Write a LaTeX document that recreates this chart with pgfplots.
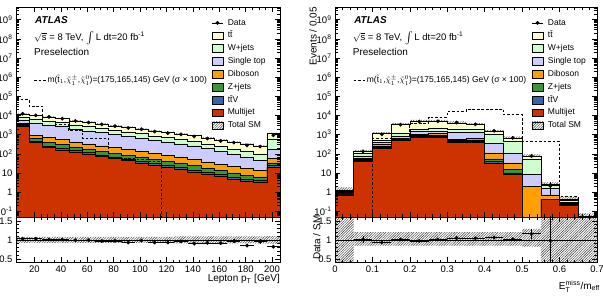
\documentclass[border=0pt]{standalone}
\usepackage{fontspec}
\setmainfont{Liberation Sans}
\usepackage{amsmath}
\usepackage{pgfplots}
\pgfplotsset{compat=1.18}
\usepackage{pgfplotstable}
\usepgfplotslibrary{fillbetween}
\usetikzlibrary{patterns.meta}

% process colours
\definecolor{cTT}{RGB}{255,255,204}
\definecolor{cW}{RGB}{204,255,204}
\definecolor{cST}{RGB}{204,204,255}
\definecolor{cDB}{RGB}{255,160,0}
\definecolor{cZ}{RGB}{51,153,51}
\definecolor{cTTV}{RGB}{51,102,170}
\definecolor{cMJ}{RGB}{204,51,0}

\newcommand{\dashsample}{\raisebox{0.55ex}{\rule{2.6pt}{0.7pt}\hspace{1.9pt}\rule{2.6pt}{0.7pt}\hspace{1.9pt}\rule{2.6pt}{0.7pt}}}
\newcommand{\sigtext}{\dashsample\hspace{1.7pt}m($\tilde{\text{t}}_{1}$,$\tilde{\chi}^{\pm}_{1}$,$\tilde{\chi}^{0}_{1}$)=(175,165,145) GeV (σ × 100)}
\newcommand{\lumitext}{$\sqrt{\text{s}}$ = 8 TeV, {\fontsize{12}{12}\selectfont$\int$}\,L dt=20 fb\textsuperscript{-1}}

\tikzset{hatch/.style={pattern={Lines[angle=45,distance=1.8pt,line width=0.45pt]},pattern color=black!80}}

\pgfplotsset{
  hepframe/.style={
    scale only axis, axis on top, clip mode=individual,
    tick align=inside, xtick pos=both, ytick pos=both,
    major tick length=5pt, minor tick length=2.6pt,
    every tick/.append style={black, line width=0.45pt},
    axis line style={line width=0.6pt},
    tick label style={font=\fontsize{9.5}{11}\selectfont},
    /pgf/number format/assume math mode=true,
  },
  hepmainy/.style={
    ymin=0.05, ymax=4.6e9, log origin y=infty,
    ytick={0.1,1,10,100,1000,1e4,1e5,1e6,1e7,1e8,1e9},
    yticklabels={10\textsuperscript{-1},1,10,10\textsuperscript{2},10\textsuperscript{3},10\textsuperscript{4},10\textsuperscript{5},10\textsuperscript{6},10\textsuperscript{7},10\textsuperscript{8},10\textsuperscript{9}},
    minor ytick={0.06,0.07,0.08,0.09,0.2,0.3,0.4,0.5,0.6,0.7,0.8,0.9,2,3,4,5,6,7,8,9,20,30,40,50,60,70,80,90,200,300,400,500,600,700,800,900,2000,3000,4000,5000,6000,7000,8000,9000,2e4,3e4,4e4,5e4,6e4,7e4,8e4,9e4,2e5,3e5,4e5,5e5,6e5,7e5,8e5,9e5,2e6,3e6,4e6,5e6,6e6,7e6,8e6,9e6,2e7,3e7,4e7,5e7,6e7,7e7,8e7,9e7,2e8,3e8,4e8,5e8,6e8,7e8,8e8,9e8,2e9,3e9,4e9},
  },
  ratioy/.style={
    ymin=0.41, ymax=1.6, ytick={0.5,1,1.5}, yticklabels={0.5,1,1.5}, minor y tick num=4,
  },
  hist/.style={forget plot, const plot mark left, draw=black, line width=0.45pt},
  boxentry/.style={legend image code/.code={\draw[##1,line width=0.45pt] (0pt,-3.9pt) rectangle (11pt,3.9pt);}},
  dataentry/.style={legend image code/.code={\draw[black,line width=0.6pt] (0pt,0pt) -- (11pt,0pt); \fill[black] (5.5pt,0pt) circle (1.7pt);}},
  heplegend/.style={
    legend cell align=left,
    legend style={draw=none, fill=none, anchor=north west, inner sep=0pt, outer sep=0pt,
      font=\fontsize{8.5}{10}\selectfont, row sep=4.6pt,
      nodes={inner sep=0pt, outer sep=0pt, text height=6.3pt, text depth=1.9pt},
      /tikz/every odd column/.append style={column sep=4.6pt}},
  },
  datapts/.style={forget plot, only marks, mark=*, mark size=1.7pt, black,
    error bars/y dir=both, error bars/y explicit, error bars/error mark=none,
    error bars/error bar style={line width=0.6pt}},
}

% lepton pT: cumulative stack heights (Multijet, +ttV, +Z, +Diboson, +Single top, +W, +ttbar), signal, band
\pgfplotstableread{
lo  c1   c2   c3   c4   c5   c6   c7    sig    mbu  mbd  bu   bd
6   2630 2951 3311 3802 5623 8511 12020 66070  0.08 0.08 0.08 0.08
16  417  479  631  891  3802 6310 9772  30200  0.08 0.08 0.08 0.08
26  214  251  398  708  3162 5248 8318  5012   0.08 0.08 0.08 0.08
36  162  191  302  550  2630 4365 6761  3548   0.08 0.08 0.08 0.08
46  126  148  229  417  1905 3162 5248  1585   0.08 0.08 0.08 0.08
56  98   115  178  331  1585 2630 4365  661    0.08 0.08 0.08 0.08
66  76   89   138  263  1288 2138 3548  661    0.08 0.08 0.08 0.08
76  58   69   107  209  1000 1698 2884  62     0.08 0.08 0.08 0.08
86  45   54   85   166  813  1413 2399  58     0.08 0.08 0.08 0.08
96  33   41   68   132  646  1122 1950  52     0.08 0.08 0.08 0.08
106 26   32   52   105  501  871  1549  42     0.08 0.08 0.08 0.08
116 20   25   41   83   407  724  1288  1e-4   0.08 0.08 0.08 0.08
126 15   19   31   63   331  589  1072  1e-4   0.09 0.09 0.09 0.09
136 11.5 14   24   50   263  468  891   1e-4   0.09 0.09 0.09 0.09
146 8.7  10.7 17.8 38   186  331  676   1e-4   0.09 0.09 0.09 0.09
156 6.5  8.1  13.2 28   132  234  513   1e-4   0.09 0.09 0.09 0.09
166 4.9  6.2  10   22   93   178  398   1e-4   0.09 0.09 0.09 0.09
176 3.8  4.8  7.6  17.8 68   132  324   1e-4   0.09 0.09 0.09 0.09
186 3.3  4.2  6.3  14.1 45   100  251   1e-4   0.09 0.09 0.09 0.09
196 20   24   33   60   166  562  1122  1e-4   0.10 0.10 0.10 0.10
206 20   24   33   60   166  562  1122  1e-4   0.10 0.10 0.10 0.10
}\lstack

\pgfplotstableread{
x   y     ey   r    er
11  12380 111  1.03 0.010
21  10065 100  1.03 0.011
31  8401  92   1.01 0.011
41  6829  83   1.01 0.012
51  5196  72   0.99 0.014
61  4321  66   0.99 0.015
71  3442  59   0.97 0.017
81  2797  53   0.97 0.018
91  2231  47   0.93 0.020
101 1911  44   0.98 0.022
111 1441  38   0.93 0.025
121 1198  35   0.93 0.027
131 1029  32   0.96 0.030
141 802   28   0.90 0.032
151 622   25   0.92 0.037
161 467   22   0.91 0.042
171 386   20   0.97 0.049
181 275   17   0.85 0.051
191 238   15   0.95 0.062
201 920   30   0.82 0.027
}\ldata

% ETmiss/meff: same column layout
\pgfplotstableread{
lo   c1    c2    c3    c4    c5    c6    c7    sig    mbu  mbd  bu   bd
0    0.72  0.76  0.80  0.86  0.95  1.08  1.25  1e-4   0.42 0.36 0.8  0.8
0.05 40    46    52    60    79    105   132   1e-4   0.20 0.15 0.20 0.15
0.10 200   220   250   300   390   537   1120  600    0.20 0.15 0.20 0.15
0.15 537   560   600   661   870   1200  3300  660    0.20 0.15 0.20 0.15
0.20 741   800   900   1070  1480  1950  4900  3981   0.20 0.15 0.20 0.15
0.25 741   800   900   1120  1585  2190  4900  8300   0.20 0.15 0.20 0.15
0.30 420   450   480   550   1400  1900  4070  16200  0.20 0.15 0.20 0.15
0.35 398   447   525   661   1318  1820  3311  21380  0.20 0.15 0.20 0.15
0.40 33    40    54    110   363   1000  1490  21380  0.20 0.15 0.20 0.15
0.45 8.5   9.3   14.8  33    110   447   661   10960  0.20 0.15 0.20 0.15
0.50 1e-4  1e-4  1e-4  2.0   8.1   50    72    447    0.29 0.18 0.29 0.18
0.55 0.40  0.40  0.40  0.72  1.6   2.2   2.5   447    0.27 0.23 0.8  0.8
0.60 0.20  0.21  0.23  0.26  0.30  0.36  0.44  0.6    0.30 0.30 0.8  0.8
0.65 0.045 0.045 0.045 0.045 0.045 0.045 0.055 1e-4   0.40 0.40 0.8  0.8
0.70 0.045 0.045 0.045 0.045 0.045 0.045 0.055 1e-4   0.40 0.40 0.8  0.8
}\rstack

\pgfplotstableread{
x     y     ey   r    er
0.075 133   12   1.01 0.08
0.125 1040  32   0.93 0.03
0.175 3330  58   1.01 0.02
0.225 4750  69   0.97 0.015
0.275 4950  70   1.01 0.015
0.325 4270  65   1.05 0.016
0.375 3440  59   1.04 0.018
0.425 1580  40   1.06 0.025
0.475 674   26   1.02 0.04
0.525 75    9    1.16 0.13
0.575 2.1   1.4  0.98 0.7
}\rdata

\begin{document}
\begin{tikzpicture}

% ---------------- left: lepton pT ----------------
\begin{axis}[hepframe, ymode=log, hepmainy, heplegend,
  at={(16pt,78pt)}, anchor=south west, width=264pt, height=210pt,
  xmin=6, xmax=206, xtick={20,40,...,200}, minor x tick num=3, xticklabels={},
  legend style={at={(0.741,0.944)}},
]
\addlegendimage{dataentry}\addlegendentry{Data}
\addlegendimage{boxentry,fill=cTT}\addlegendentry{t\=t}
\addlegendimage{boxentry,fill=cW}\addlegendentry{W+jets}
\addlegendimage{boxentry,fill=cST}\addlegendentry{Single top}
\addlegendimage{boxentry,fill=cDB}\addlegendentry{Diboson}
\addlegendimage{boxentry,fill=cZ}\addlegendentry{Z+jets}
\addlegendimage{boxentry,fill=cTTV}\addlegendentry{t\=tV}
\addlegendimage{boxentry,fill=cMJ}\addlegendentry{Multijet}
\addlegendimage{boxentry,hatch}\addlegendentry{Total SM}

\addplot[hist, fill=cTT]  table[x=lo,y=c7]{\lstack} \closedcycle;
\addplot[hist, fill=cW]   table[x=lo,y=c6]{\lstack} \closedcycle;
\addplot[hist, fill=cST]  table[x=lo,y=c5]{\lstack} \closedcycle;
\addplot[hist, fill=cDB]  table[x=lo,y=c4]{\lstack} \closedcycle;
\addplot[hist, fill=cZ]   table[x=lo,y=c3]{\lstack} \closedcycle;
\addplot[hist, fill=cTTV] table[x=lo,y=c2]{\lstack} \closedcycle;
\addplot[hist, fill=cMJ]  table[x=lo,y=c1]{\lstack} \closedcycle;
\addplot[forget plot, const plot mark left, draw=none, name path=lmu] table[x=lo,y expr=\thisrow{c7}*(1+\thisrow{mbu})]{\lstack};
\addplot[forget plot, const plot mark left, draw=none, name path=lmd] table[x=lo,y expr=\thisrow{c7}*(1-\thisrow{mbd})]{\lstack};
\addplot[forget plot, hatch] fill between[of=lmu and lmd];
\addplot[forget plot, const plot mark left, black, line width=0.75pt, dash pattern=on 2.6pt off 1.9pt] table[x=lo,y=sig]{\lstack};
\addplot[datapts] table[x=x,y=y,y error=ey]{\ldata};

\node[anchor=base west, font=\fontsize{10}{12}\selectfont\bfseries\itshape] at (rel axis cs:0.0595,0.922) {ATLAS};
\node[anchor=base west, font=\fontsize{9.5}{11}\selectfont] at (rel axis cs:0.0557,0.8395) {\lumitext};
\node[anchor=base west, font=\fontsize{10}{12}\selectfont] at (rel axis cs:0.0557,0.770) {Preselection};
\node[anchor=base west, font=\fontsize{8.5}{10}\selectfont] at (rel axis cs:0.0557,0.6395) {\sigtext};
\end{axis}

\begin{axis}[hepframe, ratioy,
  at={(16pt,32.7pt)}, anchor=south west, width=264pt, height=45.3pt,
  xmin=6, xmax=206, xtick={20,40,...,200}, minor x tick num=3,
  xlabel={Lepton p$_{\text{T}}$ [GeV]},
  xlabel style={at={(axis description cs:1,-0.27)}, anchor=north east, inner sep=0pt, font=\fontsize{10}{12}\selectfont},
]
\addplot[forget plot, const plot mark left, draw=none, name path=lru] table[x=lo,y expr=1+\thisrow{bu}]{\lstack};
\addplot[forget plot, const plot mark left, draw=none, name path=lrd] table[x=lo,y expr=1-\thisrow{bd}]{\lstack};
\addplot[forget plot, hatch] fill between[of=lru and lrd];
\addplot[forget plot, black, line width=0.5pt] coordinates {(6,1) (206,1)};
\addplot[datapts, error bars/x dir=both, error bars/x fixed=5] table[x=x,y=r,y error=er]{\ldata};
\end{axis}

% ---------------- right: ETmiss/meff ----------------
\begin{axis}[hepframe, ymode=log, hepmainy, heplegend,
  at={(335pt,78pt)}, anchor=south west, width=262pt, height=210pt,
  xmin=0, xmax=0.7, xtick={0,0.1,0.2,0.3,0.4,0.5,0.6,0.7}, minor x tick num=4, xticklabels={},
  legend style={at={(0.751,0.944)}},
  ylabel={Events / 0.05},
  ylabel style={at={(axis description cs:-0.0687,1)}, anchor=south east, inner sep=0pt, font=\fontsize{10}{12}\selectfont},
]
\addlegendimage{dataentry}\addlegendentry{Data}
\addlegendimage{boxentry,fill=cTT}\addlegendentry{t\=t}
\addlegendimage{boxentry,fill=cW}\addlegendentry{W+jets}
\addlegendimage{boxentry,fill=cST}\addlegendentry{Single top}
\addlegendimage{boxentry,fill=cDB}\addlegendentry{Diboson}
\addlegendimage{boxentry,fill=cZ}\addlegendentry{Z+jets}
\addlegendimage{boxentry,fill=cTTV}\addlegendentry{t\=tV}
\addlegendimage{boxentry,fill=cMJ}\addlegendentry{Multijet}
\addlegendimage{boxentry,hatch}\addlegendentry{Total SM}

\addplot[hist, fill=cTT]  table[x=lo,y=c7]{\rstack} \closedcycle;
\addplot[hist, fill=cW]   table[x=lo,y=c6]{\rstack} \closedcycle;
\addplot[hist, fill=cST]  table[x=lo,y=c5]{\rstack} \closedcycle;
\addplot[hist, fill=cDB]  table[x=lo,y=c4]{\rstack} \closedcycle;
\addplot[hist, fill=cZ]   table[x=lo,y=c3]{\rstack} \closedcycle;
\addplot[hist, fill=cTTV] table[x=lo,y=c2]{\rstack} \closedcycle;
\addplot[hist, fill=cMJ]  table[x=lo,y=c1]{\rstack} \closedcycle;
\addplot[forget plot, const plot mark left, draw=none, name path=rmu] table[x=lo,y expr=\thisrow{c7}*(1+\thisrow{mbu})]{\rstack};
\addplot[forget plot, const plot mark left, draw=none, name path=rmd] table[x=lo,y expr=\thisrow{c7}*(1-\thisrow{mbd})]{\rstack};
\addplot[forget plot, hatch] fill between[of=rmu and rmd];
\addplot[forget plot, const plot mark left, black, line width=0.75pt, dash pattern=on 2.6pt off 1.9pt] table[x=lo,y=sig]{\rstack};
\addplot[datapts] table[x=x,y=y,y error=ey]{\rdata};

\node[anchor=base west, font=\fontsize{10}{12}\selectfont\bfseries\itshape] at (rel axis cs:0.060,0.922) {ATLAS};
\node[anchor=base west, font=\fontsize{9.5}{11}\selectfont] at (rel axis cs:0.0547,0.8395) {\lumitext};
\node[anchor=base west, font=\fontsize{10}{12}\selectfont] at (rel axis cs:0.0547,0.770) {Preselection};
\node[anchor=base west, font=\fontsize{8.5}{10}\selectfont] at (rel axis cs:0.0573,0.6395) {\sigtext};
\end{axis}

\begin{axis}[hepframe, ratioy,
  at={(335pt,32.7pt)}, anchor=south west, width=262pt, height=45.3pt,
  xmin=0, xmax=0.7, xtick={0,0.1,0.2,0.3,0.4,0.5,0.6,0.7}, minor x tick num=4,
  xticklabels={0,0.1,0.2,0.3,0.4,0.5,0.6,0.7},
  xlabel={E$^{\text{miss}}_{\text{T}}$/m$_{\text{eff}}$},
  xlabel style={at={(axis description cs:1.0115,-0.40)}, anchor=north east, inner sep=0pt, font=\fontsize{10}{12}\selectfont},
  ylabel={Data / SM},
  ylabel style={at={(axis description cs:-0.0546,1.037)}, anchor=south east, inner sep=0pt, font=\fontsize{10}{12}\selectfont},
]
\addplot[forget plot, const plot mark left, draw=none, name path=rru] table[x=lo,y expr=1+\thisrow{bu}]{\rstack};
\addplot[forget plot, const plot mark left, draw=none, name path=rrd] table[x=lo,y expr=1-\thisrow{bd}]{\rstack};
\addplot[forget plot, hatch] fill between[of=rru and rrd];
\addplot[forget plot, black, line width=0.5pt] coordinates {(0,1) (0.7,1)};
\addplot[datapts, error bars/x dir=both, error bars/x fixed=0.025] table[x=x,y=r,y error=er]{\rdata};
\end{axis}

\pgfresetboundingbox
\path[use as bounding box] (0pt,0pt) rectangle (603pt,295pt);
\end{tikzpicture}
\end{document}
